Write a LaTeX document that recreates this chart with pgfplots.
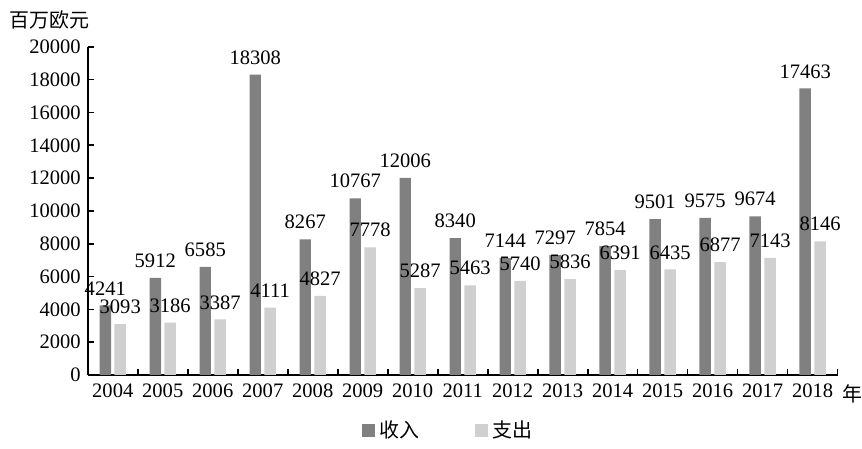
\documentclass[border=0pt]{standalone}
\usepackage{fontspec}
\setmainfont{Liberation Serif}
\newfontfamily\cjk{Noto Sans CJK SC}
\usepackage{pgfplots}
\pgfplotsset{compat=1.18}

\definecolor{incomegray}{RGB}{128,128,128}
\definecolor{spendgray}{RGB}{208,208,208}

\begin{document}
\begin{tikzpicture}
\begin{axis}[
  scale only axis,
  width=376pt, height=164.5pt,
  ybar=1.75pt, bar width=5.75pt,
  xmin=-0.5, xmax=14.5,
  ymin=0, ymax=20000,
  axis x line=bottom, axis y line=left,
  axis line style={-, line width=0.8pt},
  xtick={0,...,14},
  xticklabels={2004,2005,2006,2007,2008,2009,2010,2011,2012,2013,2014,2015,2016,2017,2018},
  minor xtick={0.5,1.5,...,14.5},
  ytick={0,2000,...,20000},
  scaled y ticks=false,
  tick align=inside,
  major x tick style={draw=none},
  minor tick length=3pt, major tick length=3pt,
  tick style={line width=0.8pt, black},
  /pgf/number format/1000 sep={},
  /pgf/number format/assume math mode=true,
  tick label style={font=\fontsize{10.3}{12}\selectfont},
  xticklabel style={yshift=-1pt},
  nodes near coords,
  every node near coord/.append style={font=\fontsize{10.3}{12}\selectfont,
    inner sep=0pt, text depth=0pt, yshift=5pt},
  clip=false,
  legend style={at={(rel axis cs:0.482,-0.17)}, anchor=center, draw=none,
    legend columns=2, font=\fontsize{10}{12}\selectfont\cjk,
    /tikz/every even column/.append style={column sep=26pt}},
  legend image code/.code={\fill[#1] (0pt,-3.3pt) rectangle (6.6pt,3.3pt);},
]
\addplot[fill=incomegray, draw=none] coordinates {
  (0,4241) (1,5912) (2,6585) (3,18308) (4,8267) (5,10767) (6,12006) (7,8340)
  (8,7144) (9,7297) (10,7854) (11,9501) (12,9575) (13,9674) (14,17463)};
\addplot[fill=spendgray, draw=none] coordinates {
  (0,3093) (1,3186) (2,3387) (3,4111) (4,4827) (5,7778) (6,5287) (7,5463)
  (8,5740) (9,5836) (10,6391) (11,6435) (12,6877) (13,7143) (14,8146)};
\legend{收入,支出}
\node[anchor=center, font=\fontsize{10}{12}\selectfont\cjk] at (rel axis cs:0,1) [xshift=-19pt, yshift=13.5pt] {百万欧元};
\node[anchor=west, font=\fontsize{10}{12}\selectfont\cjk, inner sep=0pt] at (rel axis cs:1,0) [xshift=2pt, yshift=-9.5pt] {年};
\path (rel axis cs:0,0) ++(-44pt,-34pt) rectangle ++(431pt,222pt);
\end{axis}
\end{tikzpicture}
\end{document}
